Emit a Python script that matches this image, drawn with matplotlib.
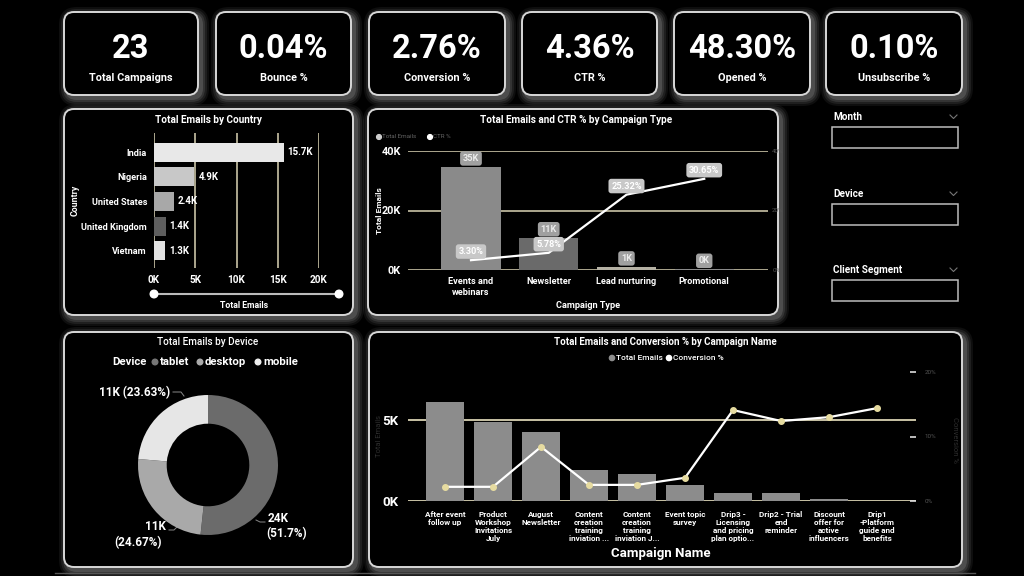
import matplotlib
matplotlib.use('Agg')
import matplotlib.pyplot as plt
from matplotlib.patches import FancyBboxPatch, Circle
import numpy as np

plt.rcParams['font.family'] = ['Roboto', 'DejaVu Sans']

# ---------------- data ----------------
kpi_values = ['23', '0.04%', '2.76%', '4.36%', '48.30%', '0.10%']
kpi_labels = ['Total Campaigns', 'Bounce %', 'Conversion %', 'CTR %', 'Opened %', 'Unsubscribe %']

countries = ['India', 'Nigeria', 'United States', 'United Kingdom', 'Vietnam']
country_emails = [15700, 4900, 2400, 1400, 1300]
country_ticks = [0, 5000, 10000, 15000, 20000]

camp_types = ['Events and\nwebinars', 'Newsletter', 'Lead nurturing', 'Promotional']
type_emails = [34600, 10800, 1000, 200]
type_ctr = [3.30, 5.78, 25.32, 30.65]

devices = ['tablet', 'desktop', 'mobile']
device_emails = [24000, 11452, 10970]

camp_names = ['After event\nfollow up', 'Product\nWorkshop\nInvitations\nJuly', 'August\nNewsletter',
              'Content\ncreation\ntraining\ninviation ...', 'Content\ncreation\ntraining\ninviation J...',
              'Event topic\nsurvey', 'Drip3 -\nLicensing\nand pricing\nplan optio...',
              'Drip2 - Trial\nend\nreminder', 'Discount\noffer for\nactive\ninfluencers',
              'Drip1\n-Platform\nguide and\nbenefits']
name_emails = [6170, 4880, 4260, 1910, 1700, 990, 490, 490, 100, 20]
name_conv = [2.2, 2.2, 8.4, 2.5, 2.5, 3.6, 14.1, 12.4, 13.0, 14.4]

slicers = ['Month', 'Device', 'Client Segment']

# ---------------- layout helpers ----------------
W, H = 1024, 576
fig = plt.figure(figsize=(W / 100, H / 100), dpi=100, facecolor='black')
bg = fig.add_axes([0, 0, 1, 1])
bg.set_xlim(0, W)
bg.set_ylim(H, 0)
bg.axis('off')
bg.set_facecolor('black')

GRID = '#c9c3a6'


def add_ax(x0, y0, x1, y1):
    a = fig.add_axes([x0 / W, 1 - y1 / H, (x1 - x0) / W, (y1 - y0) / H])
    a.set_facecolor('none')
    for s in a.spines.values():
        s.set_visible(False)
    return a


def panel(x0, y0, x1, y1, r=10):
    for pad, al in [(8, 0.10), (6, 0.14), (4, 0.2), (2, 0.3)]:
        g = FancyBboxPatch((x0 - pad + 3, y0 - pad + 3), x1 - x0 + 2 * pad, y1 - y0 + 2 * pad,
                           boxstyle=f'round,pad=0,rounding_size={r + pad}',
                           facecolor='#8a8a8a', edgecolor='none', alpha=al, zorder=1)
        bg.add_patch(g)
    p = FancyBboxPatch((x0, y0), x1 - x0, y1 - y0, boxstyle=f'round,pad=0,rounding_size={r}',
                       facecolor='black', edgecolor='#d8d8d8', linewidth=1.4, zorder=2)
    bg.add_patch(p)


def txt(x, y, s, size, color='white', weight='bold', ha='center', **kw):
    return bg.text(x, y, s, color=color, fontsize=size, fontweight=weight, ha=ha, va='center',
                   zorder=3, **kw)


# ---------------- KPI cards ----------------
card_x = [(64, 198), (216, 351), (369, 505), (522, 657), (674, 810), (826, 962)]
for (x0, x1), v, lab in zip(card_x, kpi_values, kpi_labels):
    panel(x0, 12, x1, 95)
    cx = (x0 + x1) / 2
    txt(cx, 49, v, 23.5, weight='bold')
    txt(cx, 78, lab, 7.8)

# ---------------- panels ----------------
panel(64, 109, 353, 315)
panel(368, 109, 778, 315)
panel(64, 332, 353, 567)
panel(369, 332, 962, 567)

# ---------------- Country chart ----------------
txt(208, 120, 'Total Emails by Country', 7.2)
ax1 = add_ax(154, 133, 319, 268)
ypos = np.arange(len(countries))
c_cols = ['#e8e8e8', '#c8c8c8', '#a8a8a8', '#5e5e5e', '#e2e2e2']
ax1.barh(ypos, country_emails, height=0.77, color=c_cols, zorder=3)
ax1.set_xlim(0, 20000)
ax1.set_ylim(len(countries) - 1 + 0.69, -0.77)
for t in country_ticks:
    ax1.axvline(t, color=GRID, lw=1.2, zorder=1)
for y, v in zip(ypos, country_emails):
    ax1.text(v + 500, y, f'{v / 1000:.1f}K', color='white', fontsize=7, fontweight='bold',
             va='center', ha='left', zorder=4)
ax1.set_yticks(ypos)
ax1.set_yticklabels(countries, color='white', fontsize=6.6, fontweight='bold')
ax1.set_xticks(country_ticks)
ax1.set_xticklabels([f'{t // 1000}K' for t in country_ticks], color='white', fontsize=7.2,
                    fontweight='bold')
ax1.tick_params(length=0, pad=5)
txt(75, 200, 'Country', 6.3, rotation=90)
bg.plot([154, 339], [294, 294], color='#bbbbbb', lw=1.5, zorder=3)
bg.add_patch(Circle((154, 294), 3.8, color='white', zorder=4))
bg.add_patch(Circle((339, 294), 3.8, color='white', zorder=4))
txt(244, 305, 'Total Emails', 6.3)

# ---------------- Campaign Type chart ----------------
txt(576, 120, 'Total Emails and CTR % by Campaign Type', 7.2)
bg.add_patch(Circle((379, 137), 2.4, color='#cccccc', zorder=3))
txt(382, 137, 'Total Emails', 4.5, color='#666666', weight='normal', ha='left')
bg.add_patch(Circle((430, 137), 2.4, color='white', zorder=3))
txt(433, 137, 'CTR %', 4.5, color='#666666', weight='normal', ha='left')

ax2 = add_ax(408, 151, 768, 270)
xt = np.arange(len(camp_types))
t_cols = ['#8a8a8a', '#6a6a6a', '#b5b1a4', '#8a8a8a']
ax2.bar(xt, type_emails, width=0.76, color=t_cols, zorder=2)
ax2.set_xlim(-0.81, 3.82)
ax2.set_ylim(0, 40000)
for t in [0, 20000, 40000]:
    ax2.axhline(t, color=GRID, lw=1.2, zorder=1)
ax2.set_yticks([0, 20000, 40000])
ax2.set_yticklabels(['0K', '20K', '40K'], color='white', fontsize=7.8, fontweight='bold')
ax2.set_xticks(xt)
ax2.set_xticklabels(camp_types, color='white', fontsize=6.6, fontweight='bold', linespacing=1.3)
ax2.tick_params(length=0, pad=5)
for x, v in zip(xt, type_emails):
    ax2.text(x, v + 2900, f'{round(v / 1000):.0f}K', color='#ececec', fontsize=6.6,
             fontweight='bold', ha='center', va='center', zorder=5,
             bbox=dict(boxstyle='round,pad=0.3,rounding_size=0.3', fc='#a0a0a0', ec='none'))
ax2r = ax2.twinx()
for s in ax2r.spines.values():
    s.set_visible(False)
ax2r.set_ylim(0, 40)
ax2r.plot(xt, type_ctr, color='white', lw=1.6, zorder=4)
for x, v in zip(xt, type_ctr):
    ax2r.text(x, v + 2.9, f'{v:.2f}%', color='white', fontsize=6.6, fontweight='bold',
              ha='center', va='center', zorder=6,
              bbox=dict(boxstyle='round,pad=0.3,rounding_size=0.3', fc='#c8c8c8', ec='none'))
ax2r.set_yticks([0, 20, 40])
ax2r.set_yticklabels(['0%', '20%', '40%'], color='#555555', fontsize=4.5)
ax2r.tick_params(length=0, pad=3)
txt(380, 211, 'Total Emails', 6, rotation=90)
txt(588, 305, 'Campaign Type', 6.6)

# ---------------- Slicers ----------------
for lab, ty in zip(slicers, [117, 194, 270]):
    txt(833, ty, lab, 7.2, ha='left')
    bg.plot([950, 953.5, 957], [ty - 2, ty + 1.5, ty - 2], color='#777777', lw=0.8, zorder=3)
    bg.add_patch(FancyBboxPatch((832, ty + 10), 126, 21, boxstyle='square,pad=0',
                                facecolor='black', edgecolor='#bdbdbd', lw=1.1, zorder=3))

# ---------------- Device donut ----------------
txt(208, 342, 'Total Emails by Device', 7.2, weight='medium')
d_cols = ['#6b6b6b', '#a9a9a9', '#e6e6e6']
d_dots = ['#777777', '#aaaaaa', '#eeeeee']
txt(112, 362, 'Device', 8.2, ha='left')
lx = [155, 200, 258]
for x, d, c in zip(lx, devices, d_dots):
    bg.add_patch(Circle((x, 362), 2.8, color=c, zorder=3))
    txt(x + 5, 362, d, 8.2, ha='left')
ax3 = add_ax(138, 395, 278, 535)
ax3.pie(device_emails, colors=d_cols, startangle=90, counterclock=False, radius=1,
        wedgeprops=dict(width=0.41, edgecolor='none'))
ax3.set_xlim(-1, 1)
ax3.set_ylim(-1, 1)
ax3.set_aspect('equal')
tot = sum(device_emails)


def pct(v):
    s = f'{100 * v / tot:.2f}'.rstrip('0').rstrip('.')
    return s + '%'


def kfmt(v):
    return f'{round(v / 1000):.0f}K'


txt(268, 518, kfmt(device_emails[0]), 8.5, ha='left')
txt(266, 534, '(' + pct(device_emails[0]) + ')', 8.5, ha='left')
bg.plot([256, 260, 265], [520, 522, 522], color='#888888', lw=0.7, zorder=3)
txt(155, 527, kfmt(device_emails[1]), 8.5)
txt(138, 543, '(' + pct(device_emails[1]) + ')', 8.5)
bg.plot([169, 174, 177], [530, 530, 527], color='#888888', lw=0.7, zorder=3)
txt(135, 393, f'{kfmt(device_emails[2])} ({pct(device_emails[2])})', 8.5)
bg.plot([173, 181, 184], [392, 392, 396], color='#888888', lw=0.7, zorder=3)

# ---------------- Campaign Name chart ----------------
txt(665, 342, 'Total Emails and Conversion % by Campaign Name', 7)
bg.add_patch(Circle((612, 358), 2.6, color='#8c8c8c', zorder=3))
txt(616, 358, 'Total Emails', 6, weight='medium', ha='left')
bg.add_patch(Circle((669, 358), 2.6, color='white', zorder=3))
txt(673, 358, 'Conversion %', 6, weight='medium', ha='left')

ax4 = add_ax(408, 372, 916, 501)
xn = np.arange(len(camp_names))
ax4.bar(xn, name_emails, width=0.78, color='#8c8c8c', zorder=2)
ax4.set_xlim(-0.77, 9.81)
ax4.set_ylim(0, 8000)
for t in [0, 5000]:
    ax4.axhline(t, color=GRID, lw=1.4, zorder=1)
ax4.set_yticks([0, 5000])
ax4.set_yticklabels(['0K', '5K'], color='white', fontsize=9.5, fontweight='bold')
ax4.set_xticks(xn)
ax4.set_xticklabels(camp_names, color='white', fontsize=5.9, fontweight='bold', linespacing=1.2,
                    va='top')
ax4.tick_params(length=0, pad=7)
ax4r = ax4.twinx()
for s in ax4r.spines.values():
    s.set_visible(False)
ax4r.set_ylim(0, 20)
ax4r.plot(xn, name_conv, color='white', lw=1.6, zorder=4, marker='o', markersize=4,
          markerfacecolor='#e6dba0', markeredgecolor='#e6dba0')
ax4r.set_yticks([0, 10, 20])
ax4r.set_yticklabels(['0%', '10%', '20%'], color='#555555', fontsize=4.5)
ax4r.tick_params(axis='y', length=4, width=1.2, color='#dddddd', pad=6, direction='in')
txt(379, 436, 'Total Emails', 5.5, color='#2e2e2e', weight='normal', rotation=90)
txt(955, 440, 'Conversion %', 5.5, color='#2e2e2e', weight='normal', rotation=270)
txt(661, 553, 'Campaign Name', 9.5)

# bottom edge line
bg.plot([55, 975], [573, 573], color='#555555', lw=1.0, zorder=1)

fig.savefig('out.png', dpi=100, facecolor='black')
